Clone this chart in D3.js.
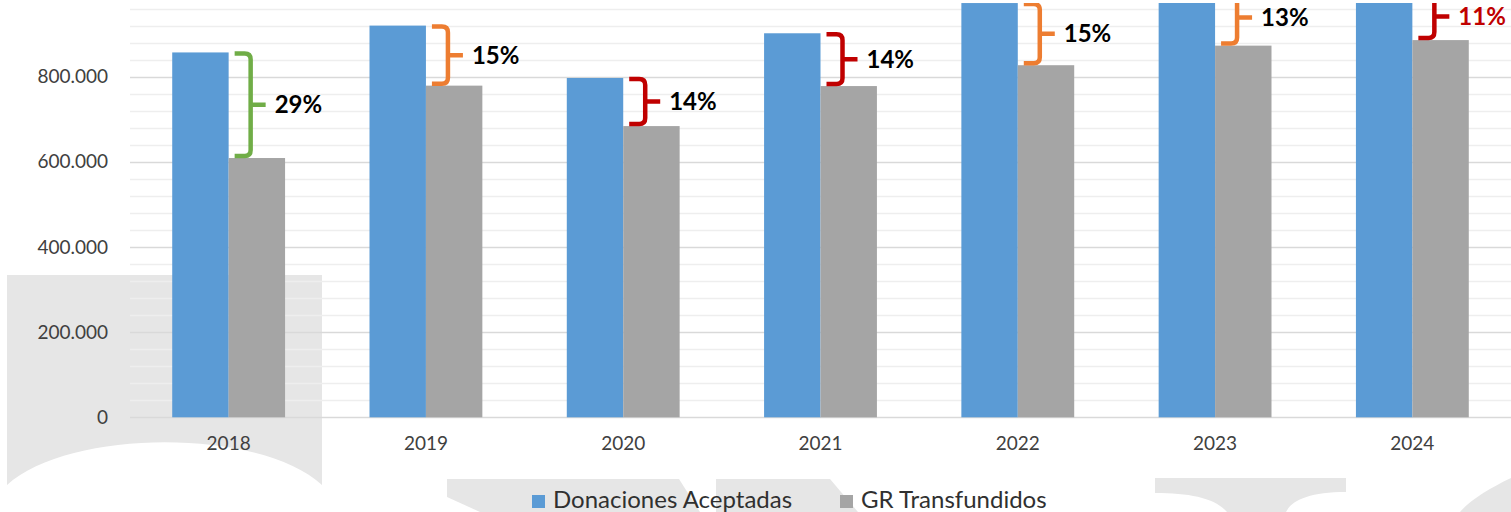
<!DOCTYPE html>
<html>
<head>
<meta charset="utf-8">
<script src="https://cdn.jsdelivr.net/npm/d3@7"></script>
<style>
  body { margin: 0; background: #fff; }
  #showBox { width: 1511px; height: 512px; overflow: hidden; }
  text { font-family: Lato, "Open Sans", sans-serif; }
</style>
</head>
<body>
<div id="showBox"></div>
<script>
// data
const years = ["2018", "2019", "2020", "2021", "2022", "2023", "2024"];
const donaciones = [857000, 920000, 797000, 902000, 973000, 1003000, 995000];
const transfundidos = [609000, 779000, 684000, 778000, 827000, 873000, 886000];
const pctLabels = ["29%", "15%", "14%", "14%", "15%", "13%", "11%"];
const braceColors = ["#70ad47", "#ed7d31", "#c00000", "#c00000", "#ed7d31", "#ed7d31", "#c00000"];
const pctTextColors = ["#000", "#000", "#000", "#000", "#000", "#000", "#c00000"];
const seriesNames = ["Donaciones Aceptadas", "GR Transfundidos"];
const seriesColors = ["#5b9bd5", "#a5a5a5"];
const yTicks = [0, 200000, 400000, 600000, 800000];

const width = 1511, height = 512;

const svg = d3.select("#showBox").append("svg")
    .attr("width", width)
    .attr("height", height);

// faint background shapes
const bg = svg.append("g").attr("fill", "#e6e6e6");
[
    "M7,275 H322 V485 C260,428 70,428 7,485 Z",
    "M447,479 H679 L700,512 H480 L447,497 Z",
    "M716,479 H830 L858,512 H716 Z",
    "M1155,478 H1346 V492 C1310,492 1292,500 1286,512 H1227 C1215,498 1190,493 1155,493 Z",
    "M1511,478 C1490,488 1470,500 1460,512 H1511 Z"
].forEach(d => bg.append("path").attr("d", d));

const x0 = d3.scaleBand().domain(years).range([130, 1511]).paddingInner(0.428).paddingOuter(0.214);
const x1 = d3.scaleBand().domain([0, 1]).range([0, x0.bandwidth()]);
const y = d3.scaleLinear().domain([0, 800000]).range([417.3, 76.7]);

svg.append("clipPath").attr("id", "plotClip")
    .append("rect").attr("x", 0).attr("y", 3).attr("width", width).attr("height", 420);

const plot = svg.append("g").attr("clip-path", "url(#plotClip)");

// gridlines, minor every 40.000
const minor = d3.range(0, 1000001, 40000);
plot.append("g")
    .selectAll("line")
    .data(minor.filter(v => v % 200000 !== 0))
    .join("line")
    .attr("x1", 130).attr("x2", 1511)
    .attr("y1", d => Math.round(y(d)) + 0.5).attr("y2", d => Math.round(y(d)) + 0.5)
    .attr("stroke", "#eeeeee").attr("stroke-width", 1.5);

plot.append("g")
    .selectAll("line")
    .data(yTicks)
    .join("line")
    .attr("x1", 130).attr("x2", 1511)
    .attr("y1", d => Math.round(y(d)) + 0.5).attr("y2", d => Math.round(y(d)) + 0.5)
    .attr("stroke", "#d9d9d9").attr("stroke-width", 1.5);

// bars
const rows = years.map((yr, i) => ({ year: yr, vals: [donaciones[i], transfundidos[i]], i }));

plot.append("g")
    .selectAll("g")
    .data(rows)
    .join("g")
    .attr("transform", d => `translate(${x0(d.year)},0)`)
    .selectAll("rect")
    .data(d => d.vals.map((v, k) => ({ v, k })))
    .join("rect")
    .attr("x", d => x1(d.k))
    .attr("width", x1.bandwidth())
    .attr("y", d => y(d.v))
    .attr("height", d => y(0) - y(d.v))
    .attr("fill", d => seriesColors[d.k]);

// braces with percentage
const braces = plot.append("g");
rows.forEach(d => {
    const left = x0(d.year) + x1.bandwidth() + 6;
    const v = left + 16;
    const tip = v + 15;
    const top = y(d.vals[0]) + 1;
    const bot = y(d.vals[1]) - 2;
    const mid = (top + bot) / 2;
    const r = 6;
    braces.append("path")
        .attr("d", `M${left},${top} H${v - r} Q${v},${top} ${v},${top + r} V${bot - r} Q${v},${bot} ${v - r},${bot} H${left} M${v},${mid} H${tip}`)
        .attr("fill", "none")
        .attr("stroke", braceColors[d.i])
        .attr("stroke-width", 4.5);
    braces.append("text")
        .attr("x", tip + 9)
        .attr("y", mid)
        .attr("dy", "0.35em")
        .attr("font-size", 24)
        .attr("font-weight", "bold")
        .attr("fill", pctTextColors[d.i])
        .text(pctLabels[d.i]);
});

// y axis labels
const fmt = v => v === 0 ? "0" : d3.format(",")(v).replace(/,/g, ".");
const yAxis = svg.append("g")
    .attr("transform", "translate(108,0)")
    .call(d3.axisLeft(y).tickValues(yTicks).tickFormat(fmt).tickSize(0).tickPadding(0));
yAxis.select(".domain").remove();
yAxis.selectAll("text")
    .attr("font-size", 19)
    .attr("font-family", "Lato, sans-serif")
    .attr("fill", "#404040");

// x axis labels
const xAxis = svg.append("g")
    .attr("transform", "translate(0,436)")
    .call(d3.axisBottom(x0).tickSize(0).tickPadding(0));
xAxis.select(".domain").remove();
xAxis.selectAll("text")
    .attr("font-size", 19)
    .attr("font-family", "Lato, sans-serif")
    .attr("fill", "#404040");

// legend
const legendX = [532, 840];
const legend = svg.append("g");
seriesNames.forEach((name, k) => {
    legend.append("rect")
        .attr("x", legendX[k]).attr("y", 495)
        .attr("width", 13).attr("height", 13)
        .attr("fill", seriesColors[k]);
    legend.append("text")
        .attr("x", legendX[k] + 21).attr("y", 508)
        .attr("font-size", 24)
        .attr("fill", "#303030")
        .text(name);
});
</script>
</body>
</html>
